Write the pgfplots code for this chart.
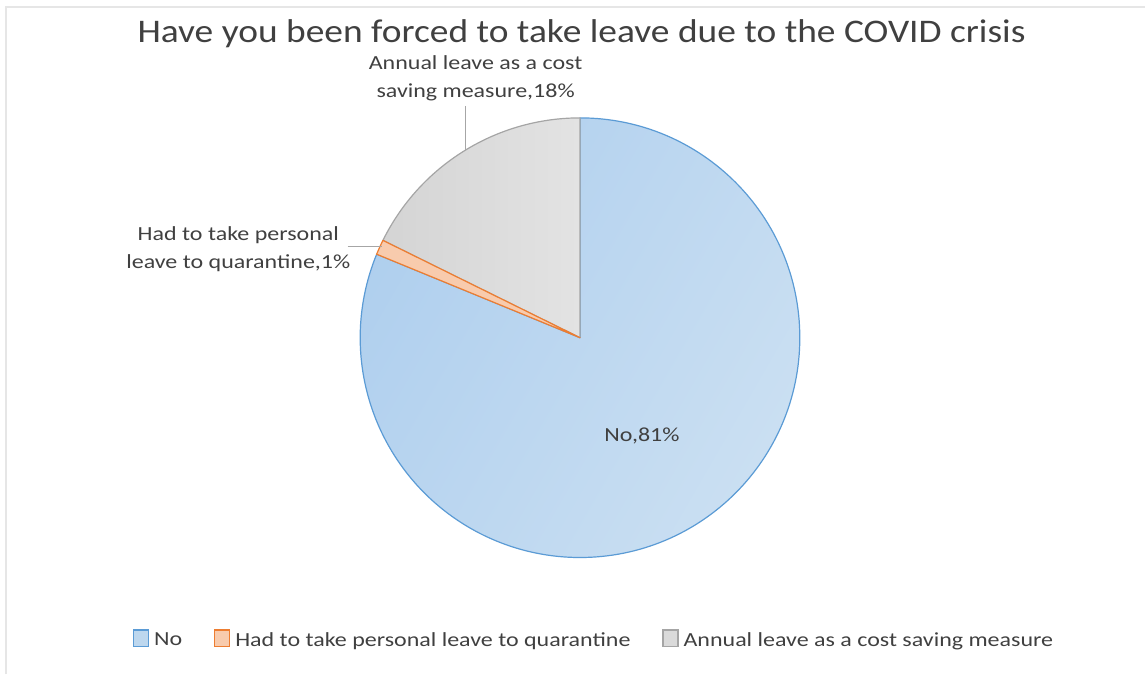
\documentclass[border=0pt]{standalone}
\usepackage{pgfplots}
\pgfplotsset{compat=1.18}
\usepackage{pgfplotstable}
\usepackage{fontspec}
\setmainfont{Carlito}
\definecolor{blueF}{HTML}{BDD7EE}
\definecolor{blueL}{HTML}{AFCFEE}
\definecolor{blueR}{HTML}{CADFF2}
\definecolor{blueE}{HTML}{5B9BD5}
\definecolor{orF}{HTML}{F8CBAD}
\definecolor{orE}{HTML}{ED7D31}
\definecolor{grF}{HTML}{DADADA}
\definecolor{grL}{HTML}{D4D4D4}
\definecolor{grR}{HTML}{E3E3E3}
\definecolor{grE}{HTML}{A5A5A5}
\definecolor{txt}{HTML}{404040}
\definecolor{lead}{HTML}{A6A6A6}
\definecolor{frame}{HTML}{E6E6E6}

\pgfplotstableread{
label value
No 81.2
Quarantine 1.1
Annual 17.7
}\piedata

\pgfplotstablegetelem{0}{value}\of\piedata \let\vA\pgfplotsretval
\pgfplotstablegetelem{1}{value}\of\piedata \let\vB\pgfplotsretval
\pgfplotstablegetelem{2}{value}\of\piedata \let\vC\pgfplotsretval
\pgfmathsetmacro{\aS}{90}
\pgfmathsetmacro{\aA}{90-3.6*\vA}
\pgfmathsetmacro{\aB}{\aA-3.6*\vB}
\pgfmathsetmacro{\aC}{\aB-3.6*\vC}
\def\cx{580.5}
\def\cy{337}
\def\R{220}
\newcommand{\sx}[1]{\scalebox{1.2}[1]{#1}}

\begin{document}
\begin{tikzpicture}
\begin{axis}[
  width=1146pt, height=675pt, scale only axis,
  xmin=0, xmax=1146, ymin=0, ymax=675,
  axis lines=none, clip=false,
  legend columns=-1,
  legend style={at={(axis cs:594.5,35)}, anchor=center, draw=none, fill=none,
    font=\fontsize{20}{22}\selectfont\color{txt},
    /tikz/every even column/.append style={column sep=30pt},
    /tikz/every odd column/.append style={column sep=3pt},
    /tikz/every node/.append style={inner xsep=2pt}},
  legend image code/.code={\draw[#1] (0pt,-7pt) rectangle (15pt,10pt);},
]
\path (axis cs:0,0) (axis cs:1146,675);
\addlegendimage{draw=blueE, fill=blueF, line width=1.2pt}
\addlegendentry{\sx{No}}
\addlegendimage{draw=orE, fill=orF, line width=1.2pt}
\addlegendentry{\sx{Had to take personal leave to quarantine}}
\addlegendimage{draw=grE, fill=grF, line width=1.2pt}
\addlegendentry{\sx{Annual leave as a cost saving measure}}

% frame
\draw[frame, line width=2pt] (axis cs:6,0) -- (axis cs:6,668) -- (axis cs:1146,668);

% slices
\shade[left color=blueL, right color=blueR, shading angle=60]
  (axis cs:\cx,\cy) -- (axis cs:{\cx+\R*cos(\aS)},{\cy+\R*sin(\aS)})
  arc[start angle=\aS, end angle=\aA, radius=\R pt] -- cycle;
\draw[blueE, line width=1.2pt, line join=round]
  (axis cs:\cx,\cy) -- (axis cs:{\cx+\R*cos(\aS)},{\cy+\R*sin(\aS)})
  arc[start angle=\aS, end angle=\aA, radius=\R pt] -- cycle;
\shade[left color=grL, right color=grR]
  (axis cs:\cx,\cy) -- (axis cs:{\cx+\R*cos(\aB)},{\cy+\R*sin(\aB)})
  arc[start angle=\aB, end angle=\aC, radius=\R pt] -- cycle;
\draw[grE, line width=1.2pt, line join=round]
  (axis cs:\cx,\cy) -- (axis cs:{\cx+\R*cos(\aB)},{\cy+\R*sin(\aB)})
  arc[start angle=\aB, end angle=\aC, radius=\R pt] -- cycle;
\filldraw[fill=orF, draw=orE, line width=1.2pt, line join=round]
  (axis cs:\cx,\cy) -- (axis cs:{\cx+\R*cos(\aA)},{\cy+\R*sin(\aA)})
  arc[start angle=\aA, end angle=\aB, radius=\R pt] -- cycle;

% leader lines
\draw[lead, line width=1pt] (axis cs:466,569) -- (axis cs:466,525);
\draw[lead, line width=1pt] (axis cs:348,428) -- (axis cs:382,428);

% title and labels
\node[txt, font=\fontsize{33}{36}\selectfont] at (axis cs:582,641) {\scalebox{1.135}[1]{Have you been forced to take leave due to the COVID crisis}};
\node[txt, font=\fontsize{20}{28}\selectfont, align=center] at (axis cs:476,597) {\sx{Annual leave as a cost}\\\sx{saving measure,18\%}};
\node[txt, font=\fontsize{20}{28}\selectfont, align=center] at (axis cs:238.5,426) {\sx{Had to take personal}\\\sx{leave to quarantine,1\%}};
\node[txt, font=\fontsize{20}{22}\selectfont] at (axis cs:642.5,239) {\sx{No,81\%}};
\end{axis}
\end{tikzpicture}
\end{document}
